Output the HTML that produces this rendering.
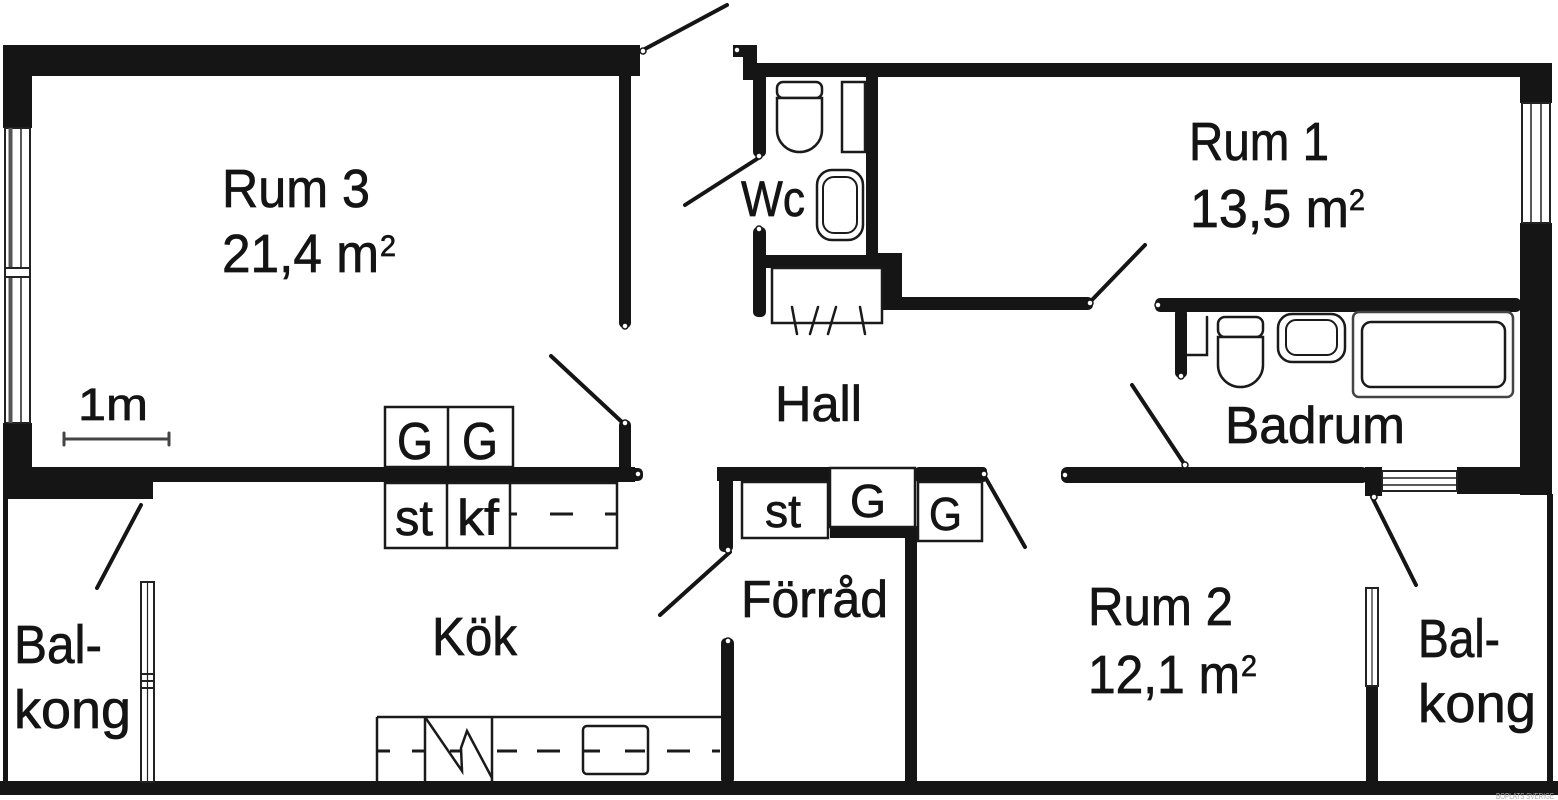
<!DOCTYPE html>
<html>
<head>
<meta charset="utf-8">
<style>
html,body{margin:0;padding:0;background:#fff;}
svg{display:block;}
text{font-family:"Liberation Sans",Arial,sans-serif;fill:#141414;stroke:#141414;stroke-width:0.7;}
</style>
</head>
<body>
<svg width="1558" height="800" viewBox="0 0 1558 800" xmlns="http://www.w3.org/2000/svg">
<rect width="1558" height="800" fill="#fff"/>

<!-- ===== WALLS ===== -->
<g fill="#151515">
  <!-- Rum 3 -->
  <rect x="3" y="45" width="637" height="31"/>
  <rect x="3" y="45" width="29" height="83"/>
  <rect x="3" y="423" width="29" height="60"/>
  <rect x="3" y="467" width="632" height="15"/>
  <rect x="3" y="467" width="150" height="32"/>
  <rect x="619" y="70" width="12" height="258" rx="5"/>
  <rect x="619" y="420" width="12" height="62" rx="5"/>
  <rect x="628" y="468" width="15" height="13" rx="5"/>
  <!-- left outer line & bottom wall -->
  <rect x="3" y="499" width="5" height="290"/>
  <rect x="0" y="781" width="1558" height="14"/>

  <!-- entry / Rum 1 top -->
  <rect x="743" y="45" width="14" height="35"/>
  <rect x="733" y="45" width="15" height="12"/>
  <rect x="743" y="63" width="809" height="14"/>
  <!-- Wc -->
  <rect x="753" y="63" width="13" height="94" rx="5"/>
  <rect x="753" y="227" width="13" height="90" rx="5"/>
  <rect x="753" y="255" width="149" height="13"/>
  <rect x="866" y="77" width="12" height="180"/>
  <rect x="878" y="253" width="24" height="57"/>
  <rect x="887" y="297" width="206" height="13" rx="5"/>

  <!-- right outer wall -->
  <rect x="1520" y="63" width="32" height="40"/>
  <rect x="1520" y="223" width="32" height="272"/>
  <rect x="1547" y="494" width="6" height="290"/>

  <!-- Badrum -->
  <rect x="1155" y="298" width="366" height="14" rx="5"/>
  <rect x="1175" y="308" width="12" height="70" rx="5"/>

  <!-- Rum 2 top -->
  <rect x="1061" y="467" width="307" height="16" rx="6"/>
  <rect x="1365" y="467" width="17" height="29"/>
  <rect x="1457" y="467" width="95" height="27"/>

  <!-- Förråd -->
  <rect x="717" y="467" width="113" height="14"/>
  <rect x="719" y="467" width="14" height="85" rx="5"/>
  <rect x="721" y="638" width="13" height="146" rx="5"/>
  <rect x="830" y="526" width="85" height="12"/>
  <rect x="905" y="526" width="12" height="258"/>
  <rect x="915" y="467" width="72" height="15" rx="4"/>

  <!-- Rum 2 window lower part -->
  <rect x="1366" y="686" width="12" height="98"/>
</g>

<!-- ===== WINDOWS ===== -->
<g fill="#fff" stroke="#222" stroke-width="2">
  <!-- left window Rum 3 -->
  <rect x="5" y="128" width="25" height="295"/>
  <line x1="10.5" y1="128" x2="10.5" y2="423" stroke="#555" stroke-width="4"/>
  <line x1="21" y1="128" x2="21" y2="423" stroke-width="1.5"/>
  <rect x="5" y="268" width="25" height="9" fill="#fff"/>
  <!-- right window Rum 1 -->
  <rect x="1522" y="103" width="28" height="120"/>
  <line x1="1531" y1="103" x2="1531" y2="223" stroke-width="1.5"/>
  <line x1="1541" y1="103" x2="1541" y2="223" stroke-width="1.5"/>
  <!-- window in Rum 2 top wall -->
  <rect x="1382" y="471" width="75" height="20"/>
  <line x1="1382" y1="478" x2="1457" y2="478" stroke-width="1.5"/>
  <line x1="1382" y1="485" x2="1457" y2="485" stroke-width="1.5"/>
  <!-- Rum 2 balcony window -->
  <rect x="1366" y="588" width="12" height="98"/>
  <line x1="1372" y1="588" x2="1372" y2="686" stroke-width="1.2"/>
  <!-- Kök balcony window -->
  <rect x="141" y="582" width="13" height="200"/>
  <line x1="147.5" y1="582" x2="147.5" y2="782" stroke-width="1.2"/>
  <line x1="141" y1="674" x2="154" y2="674"/>
  <line x1="141" y1="681" x2="154" y2="681"/>
  <line x1="141" y1="688" x2="154" y2="688"/>
</g>

<!-- ===== DOOR SWINGS ===== -->
<g stroke="#151515" stroke-width="4" stroke-linecap="round" fill="none">
  <line x1="643" y1="50" x2="727" y2="5"/>
  <line x1="760" y1="157" x2="685" y2="205"/>
  <line x1="1090" y1="302" x2="1145" y2="245"/>
  <line x1="551" y1="356" x2="623" y2="423"/>
  <line x1="1132" y1="385" x2="1185" y2="465"/>
  <line x1="141" y1="505" x2="97" y2="588"/>
  <line x1="730" y1="552" x2="660" y2="615"/>
  <line x1="984" y1="475" x2="1025" y2="547"/>
  <line x1="1372" y1="497" x2="1416" y2="585"/>
</g>
<g fill="#fff" stroke="#151515" stroke-width="1.5">
  <circle cx="643" cy="51" r="3"/>
  <circle cx="737" cy="50" r="3"/>
  <circle cx="759" cy="156" r="3"/>
  <circle cx="759" cy="229" r="3"/>
  <circle cx="1090" cy="303" r="3"/>
  <circle cx="625" cy="423" r="3"/>
  <circle cx="625" cy="326" r="3"/>
  <circle cx="638" cy="474" r="3"/>
  <circle cx="1185" cy="465" r="3"/>
  <circle cx="1065" cy="475" r="3"/>
  <circle cx="728" cy="550" r="3"/>
  <circle cx="728" cy="641" r="3"/>
  <circle cx="984" cy="474" r="3"/>
  <circle cx="1374" cy="497" r="3"/>
  <circle cx="1158" cy="305" r="3"/>
  <circle cx="1181" cy="376" r="3"/>
</g>

<!-- ===== FIXTURES ===== -->
<g fill="#fff" stroke="#1a1a1a" stroke-width="2.5">
  <!-- Wc toilet -->
  <rect x="777" y="82" width="45" height="16" rx="6"/>
  <path d="M777 98 L822 98 L822 130 A22.5 22 0 0 1 777 130 Z"/>
  <!-- Wc shelf -->
  <rect x="842" y="82" width="23" height="70"/>
  <!-- Wc sink -->
  <rect x="817" y="170" width="46" height="70" rx="15"/>
  <rect x="823" y="177" width="34" height="56" rx="11" stroke-width="2"/>
  <!-- closet -->
  <rect x="772" y="268" width="110" height="55"/>

  <!-- Badrum toilet -->
  <rect x="1218" y="317" width="45" height="20" rx="7"/>
  <path d="M1218 337 L1263 337 L1263 365 A22.5 22 0 0 1 1218 365 Z"/>
  <!-- Badrum sink -->
  <rect x="1278" y="314" width="67" height="48" rx="14"/>
  <rect x="1286" y="320" width="51" height="35" rx="10" stroke-width="2"/>
  <!-- bathtub -->
  <rect x="1353" y="312" width="160" height="85" rx="6" stroke="#444"/>
  <rect x="1362" y="322" width="143" height="65" rx="9" stroke-width="2.5"/>
</g>
<g stroke="#1a1a1a" stroke-width="2.5" fill="none" stroke-linecap="round">
  <polyline points="1187,355 1207,355 1207,317"/>
  <line x1="792" y1="307" x2="797" y2="334"/>
  <line x1="810" y1="334" x2="818" y2="307"/>
  <line x1="828" y1="334" x2="836" y2="307"/>
  <line x1="860" y1="307" x2="865" y2="334"/>
</g>

<!-- ===== KITCHEN BOXES ===== -->
<g fill="none" stroke="#1a1a1a" stroke-width="2.5">
  <rect x="385" y="407" width="128" height="60" fill="#fff"/>
  <line x1="448" y1="407" x2="448" y2="467"/>
  <rect x="385" y="483" width="232" height="65"/>
  <line x1="447" y1="483" x2="447" y2="548"/>
  <line x1="510" y1="483" x2="510" y2="548"/>
  <line x1="511" y1="514" x2="517" y2="514" stroke-width="3"/>
  <line x1="550" y1="514" x2="573" y2="514" stroke-width="3"/>
  <line x1="605" y1="514" x2="617" y2="514" stroke-width="3"/>

  <!-- Förråd boxes -->
  <rect x="830" y="468" width="85" height="59" fill="#fff"/>
  <rect x="742" y="482" width="86" height="56" fill="#fff"/>
  <rect x="918" y="482" width="64" height="59" fill="#fff"/>

  <!-- kitchen lower counter -->
  <line x1="377" y1="717" x2="722" y2="717"/>
  <line x1="377" y1="717" x2="377" y2="782"/>
  <line x1="425" y1="717" x2="425" y2="782"/>
  <line x1="492" y1="717" x2="492" y2="782"/>
  <rect x="583" y="726" width="65" height="48" rx="4"/>
  <polyline points="425,717 462,771 461,748 467,731 492,778" stroke-width="2.5"/>
  <g stroke-width="3">
    <line x1="378" y1="751" x2="390" y2="751"/>
    <line x1="412" y1="751" x2="425" y2="751"/>
    <line x1="450" y1="751" x2="460" y2="751"/>
    <line x1="497" y1="751" x2="517" y2="751"/>
    <line x1="537" y1="751" x2="560" y2="751"/>
    <line x1="583" y1="751" x2="600" y2="751"/>
    <line x1="625" y1="751" x2="645" y2="751"/>
    <line x1="667" y1="751" x2="690" y2="751"/>
    <line x1="712" y1="751" x2="720" y2="751"/>
  </g>
</g>

<!-- scale bar -->
<g stroke="#444" stroke-width="3" stroke-linecap="round">
  <line x1="64" y1="439" x2="169" y2="439"/>
  <line x1="64" y1="433" x2="64" y2="445"/>
  <line x1="169" y1="433" x2="169" y2="445"/>
</g>

<!-- ===== TEXT ===== -->
<g>
  <text x="222" y="207" font-size="54" textLength="148" lengthAdjust="spacingAndGlyphs">Rum 3</text>
  <text x="222" y="272" font-size="54" textLength="157" lengthAdjust="spacingAndGlyphs">21,4 m</text>
  <text x="380" y="256" font-size="30" textLength="16" lengthAdjust="spacingAndGlyphs">2</text>

  <text x="1189" y="160" font-size="54" textLength="140" lengthAdjust="spacingAndGlyphs">Rum 1</text>
  <text x="1190" y="227" font-size="54" textLength="159" lengthAdjust="spacingAndGlyphs">13,5 m</text>
  <text x="1349" y="210" font-size="30" textLength="16" lengthAdjust="spacingAndGlyphs">2</text>

  <text x="1088" y="625" font-size="54" textLength="145" lengthAdjust="spacingAndGlyphs">Rum 2</text>
  <text x="1088" y="693" font-size="54" textLength="152" lengthAdjust="spacingAndGlyphs">12,1 m</text>
  <text x="1241" y="676" font-size="30" textLength="16" lengthAdjust="spacingAndGlyphs">2</text>

  <text x="775" y="421" font-size="50" textLength="87" lengthAdjust="spacingAndGlyphs">Hall</text>
  <text x="1225" y="443" font-size="52" textLength="180" lengthAdjust="spacingAndGlyphs">Badrum</text>
  <text x="741" y="216" font-size="50" textLength="64" lengthAdjust="spacingAndGlyphs">Wc</text>
  <text x="432" y="655" font-size="54" textLength="85" lengthAdjust="spacingAndGlyphs">Kök</text>
  <text x="741" y="617" font-size="52" textLength="147" lengthAdjust="spacingAndGlyphs">Förråd</text>

  <text x="14" y="663" font-size="54" textLength="88" lengthAdjust="spacingAndGlyphs">Bal-</text>
  <text x="14" y="728" font-size="54" textLength="117" lengthAdjust="spacingAndGlyphs">kong</text>
  <text x="1418" y="657" font-size="54" textLength="82" lengthAdjust="spacingAndGlyphs">Bal-</text>
  <text x="1418" y="722" font-size="54" textLength="118" lengthAdjust="spacingAndGlyphs">kong</text>

  <text x="78" y="420" font-size="45" textLength="70" lengthAdjust="spacingAndGlyphs">1m</text>

  <text x="397" y="459" font-size="52" textLength="36" lengthAdjust="spacingAndGlyphs">G</text>
  <text x="462" y="459" font-size="52" textLength="36" lengthAdjust="spacingAndGlyphs">G</text>
  <text x="395" y="535" font-size="50" textLength="38" lengthAdjust="spacingAndGlyphs">st</text>
  <text x="457" y="535" font-size="50" textLength="42" lengthAdjust="spacingAndGlyphs">kf</text>

  <text x="765" y="527" font-size="46" textLength="36" lengthAdjust="spacingAndGlyphs">st</text>
  <text x="850" y="517" font-size="46" textLength="36" lengthAdjust="spacingAndGlyphs">G</text>
  <text x="929" y="530" font-size="46" textLength="33" lengthAdjust="spacingAndGlyphs">G</text>

  <text x="1496" y="799" font-size="8" style="fill:#aaa;stroke:none" textLength="58" lengthAdjust="spacingAndGlyphs">BOPLATS SVERIGE</text>
</g>
</svg>
</body>
</html>
